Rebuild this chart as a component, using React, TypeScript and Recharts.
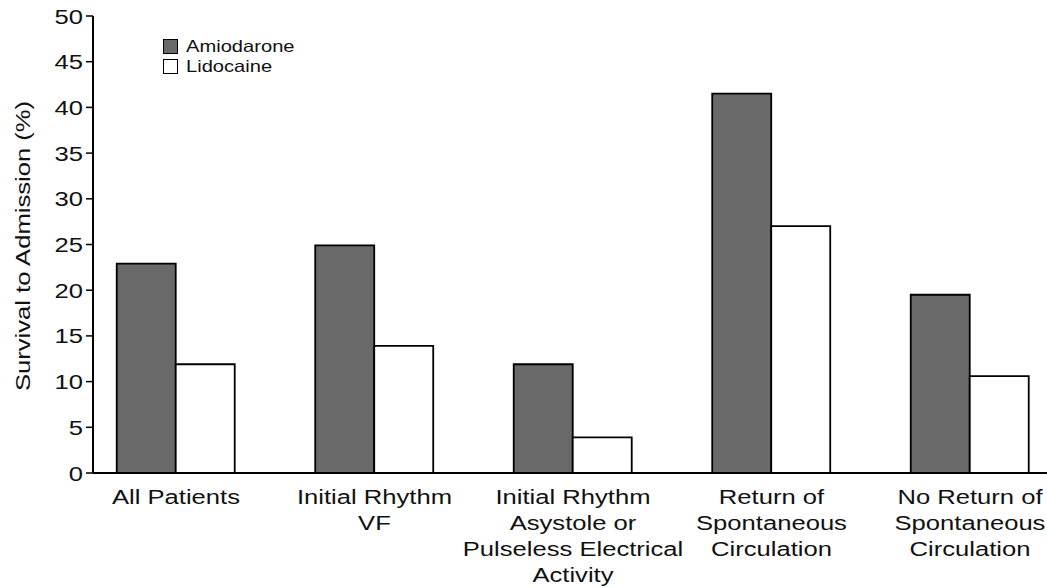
import { BarChart, Bar, XAxis, YAxis } from 'recharts'

const categories = [
    'All Patients',
    'Initial Rhythm\nVF',
    'Initial Rhythm\nAsystole or\nPulseless Electrical\nActivity',
    'Return of\nSpontaneous\nCirculation',
    'No Return of\nSpontaneous\nCirculation',
]
const amiodarone = [22.9, 24.9, 11.9, 41.5, 19.5]
const lidocaine = [11.9, 13.9, 3.9, 27.0, 10.6]
const yTicks = [0, 5, 10, 15, 20, 25, 30, 35, 40, 45, 50]

const FONT = 'Liberation Sans, Arial, Helvetica, sans-serif'
const STRETCH = 1.22

const SERIES = [
    { key: 'amiodarone', name: 'Amiodarone', fill: '#696969' },
    { key: 'lidocaine', name: 'Lidocaine', fill: '#ffffff' },
]

const data = categories.map((name, i) => ({
    idx: i,
    name,
    amiodarone: amiodarone[i],
    lidocaine: lidocaine[i],
}))

function YTick({ x, y, payload }: any) {
    return (
        <text
            transform={`translate(${x},${y}) scale(${STRETCH},1)`}
            textAnchor="end"
            dy="0.36em"
            fontSize={21}
            fontFamily={FONT}
            fill="#111"
        >
            {payload.value}
        </text>
    )
}

function XTick({ x, y, payload }: any) {
    const lines = categories[payload.value].split('\n')
    return (
        <g>
            {lines.map((line, i) => (
                <text
                    key={i}
                    transform={`translate(${x},${y + 31 + i * 26}) scale(${STRETCH},1)`}
                    textAnchor="middle"
                    fontSize={21}
                    fontFamily={FONT}
                    fill="#111"
                >
                    {line}
                </text>
            ))}
        </g>
    )
}

function YLabel() {
    return (
        <text
            transform={`translate(22,246) rotate(-90) scale(${STRETCH},1)`}
            textAnchor="middle"
            dy="0.36em"
            fontSize={21}
            fontFamily={FONT}
            fill="#111"
        >
            Survival to Admission (%)
        </text>
    )
}

function LegendBox() {
    return (
        <div style={{ position: 'absolute', left: 163, top: 36, fontFamily: FONT, fontSize: 16.5, color: '#111' }}>
            {SERIES.map((s) => (
                <div key={s.key} style={{ display: 'flex', alignItems: 'center', height: 20 }}>
                    <span
                        style={{
                            display: 'inline-block',
                            width: 15,
                            height: 15,
                            boxSizing: 'border-box',
                            border: '1.5px solid #000',
                            background: s.fill,
                            marginRight: 8,
                        }}
                    />
                    <span style={{ display: 'inline-block', transform: `scaleX(${STRETCH})`, transformOrigin: 'left center' }}>
                        {s.name}
                    </span>
                </div>
            ))}
        </div>
    )
}

export default function App() {
    return (
        <div style={{ position: 'absolute', left: 0, top: 0, width: 1047, height: 588, background: '#fff' }}>
            <BarChart
                width={1047}
                height={588}
                data={data}
                margin={{ top: 16, right: 0, bottom: 0, left: 0 }}
                barGap={0}
            >
                <XAxis
                    type="number"
                    dataKey="idx"
                    domain={[-0.418, 4.388]}
                    ticks={[0, 1, 2, 3, 4]}
                    interval={0}
                    allowDataOverflow
                    tickLine={false}
                    tickSize={0}
                    tickMargin={0}
                    axisLine={{ stroke: '#000', strokeWidth: 2 }}
                    tick={<XTick />}
                    height={115}
                />
                <YAxis
                    domain={[0, 50]}
                    ticks={yTicks}
                    interval={0}
                    width={93}
                    tickSize={7}
                    tickMargin={3}
                    tickLine={{ stroke: '#000', strokeWidth: 1.5 }}
                    axisLine={{ stroke: '#000', strokeWidth: 2 }}
                    tick={<YTick />}
                    label={{ content: <YLabel /> }}
                />
                {SERIES.map((s) => (
                    <Bar
                        key={s.key}
                        dataKey={s.key}
                        name={s.name}
                        fill={s.fill}
                        stroke="#000"
                        strokeWidth={1.8}
                        barSize={59}
                        isAnimationActive={false}
                    />
                ))}
            </BarChart>
            <LegendBox />
        </div>
    )
}
